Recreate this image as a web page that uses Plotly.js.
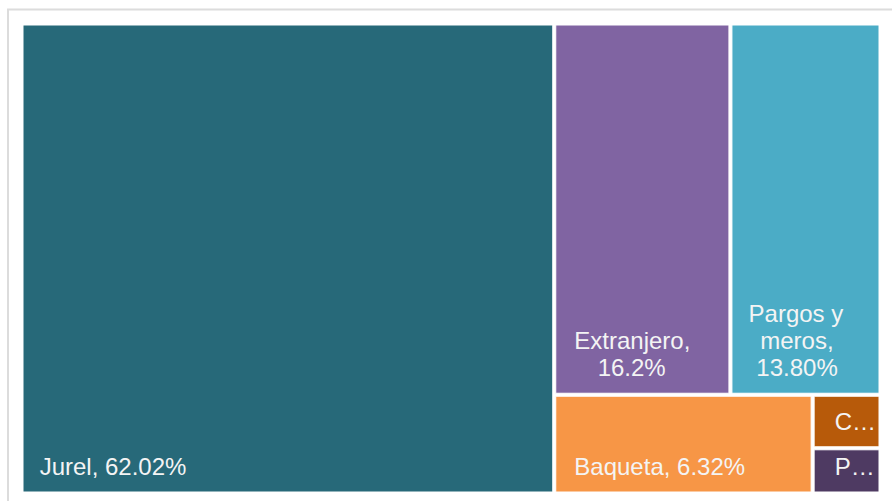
<!DOCTYPE html>
<html>
<head>
<meta charset="utf-8">
<script src="https://cdn.plot.ly/plotly-3.0.1.min.js"></script>
<style>html,body{margin:0;padding:0;background:#fff;}#chart{width:892px;height:501px;}</style>
</head>
<body>
<div id="chart"></div>
<script>
// ---- data ----
const labels = ["Jurel", "Extranjero", "Pargos y meros", "Baqueta", "C", "P"];
const values = [62.02, 16.2, 13.80, 6.32, 0.90, 0.76];
const labelLines = [
  ["Jurel, 62.02%"],
  ["Extranjero,", "16.2%"],
  ["Pargos y", "meros,", "13.80%"],
  ["Baqueta, 6.32%"],
  ["C…"],
  ["P…"]
];
const colors = ["#276979", "#8064A2", "#4BACC6", "#F79646", "#B75A0A", "#4E3A62"];

// ---- styling (indent of each line, in small base-size spaces) ----
const lineIndents = [[7], [8, 20], [7, 13, 11], [8], [9], [9]];
const BASE = 7, BIG = 24, NB = "\u00A0";

const tileTexts = labelLines.map((lines, i) =>
  lines.map((ln, j) => NB.repeat(lineIndents[i][j]) + "<span style='font-size:" + BIG + "px'>" + ln + "</span>")
       .join("<br><br><br>") + "<br><span style='font-size:22px'>" + NB + "</span>"
);

const trace = {
  type: "treemap",
  labels: labels,
  parents: labels.map(() => ""),
  values: values,
  text: tileTexts,
  textinfo: "text",
  textposition: "bottom left",
  textfont: {family: "Liberation Sans, Arial, sans-serif", size: BASE, color: "#f4f4f4"},
  marker: {colors: colors, line: {width: 1, color: "#ffffff"}, pad: {t: 0, l: 0, r: 0, b: 0}},
  tiling: {packing: "squarify", squarifyratio: 1.5, pad: 3},
  pathbar: {visible: false},
  sort: true,
  hoverinfo: "label+value"
};

const layout = {
  width: 892,
  height: 501,
  margin: {l: 23, r: 13, t: 25, b: 9},
  paper_bgcolor: "#ffffff",
  uniformtext: {mode: "show", minsize: BASE},
  shapes: [{
    type: "rect", xref: "paper", yref: "paper",
    x0: -0.0175, x1: 1.03, y0: -0.05, y1: 1.0332,
    line: {color: "#dcdcdc", width: 2}, fillcolor: "rgba(0,0,0,0)", layer: "below"
  }],
  showlegend: false
};

Plotly.newPlot("chart", [trace], layout, {displayModeBar: false, staticPlot: true});
</script>
</body>
</html>
